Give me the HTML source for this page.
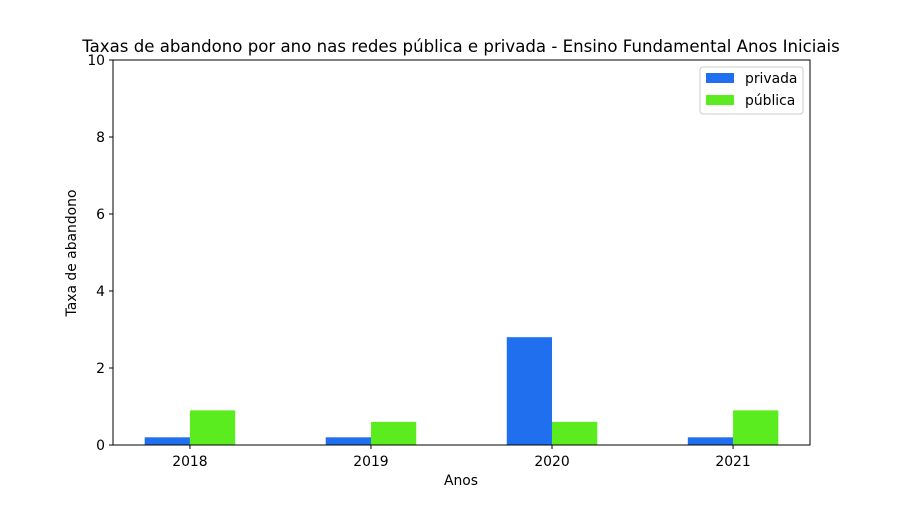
<!DOCTYPE html>
<html><head><meta charset="utf-8"><style>body{margin:0;background:#fff}svg{font-family:"DejaVu Sans","Liberation Sans",sans-serif}</style></head>
<body>
<svg id="chart" width="900" height="500">
<text x="461" y="52" font-size="16.6" text-anchor="middle">Taxas de abandono por ano nas redes pública e privada - Ensino Fundamental Anos Iniciais</text>
<g id="bars"></g>
<rect x="113" y="60" width="697" height="385" fill="none" stroke="#000" stroke-width="1"/>
<g id="axes"></g>
<text x="461" y="485" font-size="13.9" text-anchor="middle">Anos</text>
<text transform="translate(76,253) rotate(-90)" font-size="13.9" text-anchor="middle">Taxa de abandono</text>
<g>
<rect x="700" y="67" width="103" height="47" rx="3" fill="#fff" stroke="#ccc"/>
<rect x="706" y="73" width="28" height="10" fill="#1f6fef"/>
<text x="745" y="83" font-size="13.9">privada</text>
<rect x="706" y="95" width="28" height="10" fill="#5aec1f"/>
<text x="745" y="105" font-size="13.9">pública</text>
</g>
</svg>
<script>
const categories=["2018","2019","2020","2021"];
const privada=[0.2,0.2,2.8,0.2];
const publica=[0.9,0.6,0.6,0.9];
const yTicks=[0,2,4,6,8,10];
const NS="http://www.w3.org/2000/svg";
const L=113,R=810,T=60,B=445;
const xs=i=>L+(i+0.425)*(R-L)/3.85;
const ys=v=>B-v*(B-T)/10;
const bw=0.25*(R-L)/3.85;
function mk(tag,attrs,parent){const e=document.createElementNS(NS,tag);for(const k in attrs)e.setAttribute(k,attrs[k]);parent.appendChild(e);return e;}
const bars=document.getElementById('bars'),axes=document.getElementById('axes');
categories.forEach((c,i)=>{
 let b=mk('rect',{x:xs(i)-bw,y:ys(privada[i]),width:bw,height:B-ys(privada[i]),fill:'#1f6fef'},bars);
 
 
 let p=mk('rect',{x:xs(i),y:ys(publica[i]),width:bw,height:B-ys(publica[i]),fill:'#5aec1f'},bars);
 
 
 mk('line',{x1:xs(i),x2:xs(i),y1:B,y2:B+4,stroke:'#000'},axes);
 let t=mk('text',{x:xs(i),y:B+21,'font-size':13.9,'text-anchor':'middle'},axes);t.textContent=c;
 
 
});
yTicks.forEach(v=>{
 mk('line',{x1:L-4,x2:L,y1:ys(v),y2:ys(v),stroke:'#000'},axes);
 let t=mk('text',{x:L-8,y:ys(v)+5,'font-size':13.9,'text-anchor':'end'},axes);t.textContent=v;
 
 
});
</script>
</body></html>
